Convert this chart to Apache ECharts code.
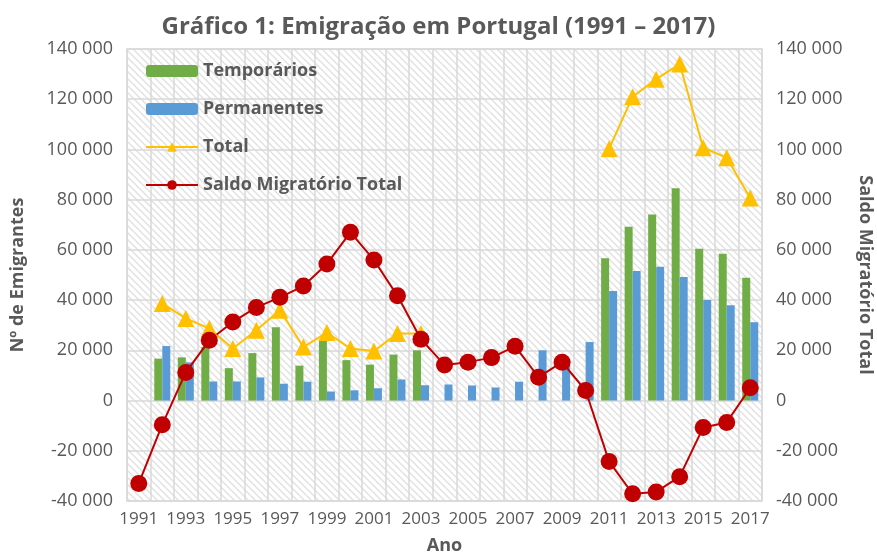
<!DOCTYPE html>
<html>
<head>
<meta charset="utf-8">
<script src="https://cdn.jsdelivr.net/npm/echarts@6/dist/echarts.min.js"></script>
<style>
html,body{margin:0;padding:0;background:#fff;}
#chart{width:877px;height:557px;}
</style>
</head>
<body>
<div id="chart"></div>
<script>
const years = ['1991','1992','1993','1994','1995','1996','1997','1998','1999','2000','2001','2002','2003','2004','2005','2006','2007','2008','2009','2010','2011','2012','2013','2014','2015','2016','2017'];
const temporarios = [null,16700,17200,21300,12900,18900,29200,13900,23700,16100,14300,18300,20000,null,null,null,null,null,null,null,56700,69200,74100,84500,60500,58500,48900];
const permanentes = [null,21700,15200,7600,7600,9200,6700,7500,3600,4100,4900,8400,6100,6400,6000,5200,7500,20000,16000,23300,43600,51600,53300,49200,40000,38000,31200];
const total = [null,38700,32700,28700,20700,28000,36000,21300,27100,20700,19700,26700,26700,null,null,null,null,null,null,null,100300,121000,128000,134000,100700,96700,80700];
const saldo = [-33000,-9600,11200,24000,31300,37100,41100,45600,54400,67000,56000,41700,24400,14200,15300,17100,21600,9300,15300,4000,-24300,-37100,-36400,-30300,-10700,-8700,5100];
const yMin = -40000, yMax = 140000, yStep = 20000;

const FONT = 'Open Sans';
const GREY = '#595959';

function fmt(v){
  const s = String(Math.abs(v)).replace(/\B(?=(\d{3})+(?!\d))/g,' ');
  return (v<0?'-':'') + s;
}

// hatch pattern for plot background
const T = 7;
const tile = document.createElement('canvas');
tile.width = T; tile.height = T;
const tc = tile.getContext('2d');
tc.fillStyle = '#ffffff'; tc.fillRect(0,0,T,T);
tc.strokeStyle = '#e2e2e2'; tc.lineWidth = 1.5;
tc.beginPath();
tc.moveTo(-1,-1); tc.lineTo(T+1,T+1);
tc.moveTo(-1,T-1); tc.lineTo(1,T+1);
tc.moveTo(T-1,-1); tc.lineTo(T+1,1);
tc.stroke();

const chart = echarts.init(document.getElementById('chart'), null, {renderer:'canvas'});
const yAxisBase = {
  type:'value', min:yMin, max:yMax, interval:yStep,
  axisLine:{show:false}, axisTick:{show:false},
  axisLabel:{fontFamily:FONT, fontSize:18, color:GREY, formatter:fmt, margin:14},
  nameLocation:'middle',
  nameTextStyle:{fontFamily:FONT, fontSize:18, fontWeight:'bold', color:GREY}
};
chart.setOption({
  animation:false,
  backgroundColor:'#ffffff',
  title:{
    text:'Gráfico 1: Emigração em Portugal (1991 – 2017)',
    left:'center', top:10,
    textStyle:{fontFamily:FONT, fontSize:24, fontWeight:'bold', color:GREY}
  },
  grid:{left:127, right:115, top:49, bottom:56, show:true, outerBoundsMode:'none', containLabel:false,
        backgroundColor:{image:tile, repeat:'repeat'}, borderColor:'#d9d9d9', borderWidth:1.5},
  legend:{
    orient:'vertical', left:140, top:57, itemWidth:52, itemHeight:12, itemGap:20,
    textStyle:{fontFamily:FONT, fontSize:18, fontWeight:'bold', color:GREY},
    data:['Temporários','Permanentes','Total','Saldo Migratório Total']
  },
  xAxis:{
    type:'category', data:years, boundaryGap:true,
    name:'Ano', nameLocation:'middle', nameGap:36,
    nameTextStyle:{fontFamily:FONT, fontSize:18, fontWeight:'bold', color:GREY},
    axisLine:{show:false}, axisTick:{show:false},
    axisLabel:{interval:1, fontFamily:FONT, fontSize:17, color:GREY, margin:10},
    splitLine:{show:true, interval:0, lineStyle:{color:'#d9d9d9', width:1.5}}
  },
  yAxis:[
    Object.assign({}, yAxisBase, {position:'left', name:'Nº de Emigrantes', nameGap:100, nameRotate:90,
      splitLine:{show:true, lineStyle:{color:'#d9d9d9', width:1.5}}}),
    Object.assign({}, yAxisBase, {position:'right', name:'Saldo Migratório Total', nameGap:94, nameRotate:-90,
      splitLine:{show:false}})
  ],
  series:[
    {name:'Temporários', type:'bar', data:temporarios, itemStyle:{color:'#70AD47'}, barGap:'0%', barCategoryGap:'32%', yAxisIndex:0},
    {name:'Permanentes', type:'bar', data:permanentes, itemStyle:{color:'#5B9BD5'}, yAxisIndex:0},
    {name:'Total', type:'line', data:total, yAxisIndex:0, connectNulls:false, showAllSymbol:true,
      symbol:'triangle', symbolSize:17, itemStyle:{color:'#FFC000'}, lineStyle:{color:'#FFC000', width:2}},
    {name:'Saldo Migratório Total', type:'line', data:saldo, yAxisIndex:1, showAllSymbol:true,
      symbol:'circle', symbolSize:17, itemStyle:{color:'#C00000'}, lineStyle:{color:'#C00000', width:2}}
  ]
});
</script>
</body>
</html>
